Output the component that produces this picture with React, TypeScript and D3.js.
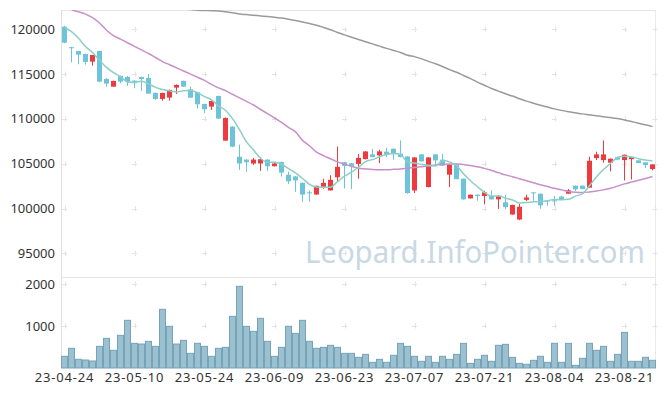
import React from 'react';
import * as d3 from 'd3';

const dates = [
  '23-04-24','23-04-25','23-04-26','23-04-27','23-04-28',
  '23-05-02','23-05-03','23-05-04','23-05-08','23-05-09','23-05-10','23-05-11','23-05-12',
  '23-05-15','23-05-16','23-05-17','23-05-18','23-05-19','23-05-22','23-05-23','23-05-24','23-05-25','23-05-26',
  '23-05-30','23-05-31','23-06-01','23-06-02','23-06-05','23-06-07','23-06-08','23-06-09',
  '23-06-12','23-06-13','23-06-14','23-06-15','23-06-16','23-06-19','23-06-20','23-06-21','23-06-22','23-06-23',
  '23-06-26','23-06-27','23-06-28','23-06-29','23-06-30','23-07-03','23-07-04','23-07-05','23-07-06','23-07-07',
  '23-07-10','23-07-11','23-07-12','23-07-13','23-07-14','23-07-17','23-07-18','23-07-19','23-07-20','23-07-21',
  '23-07-24','23-07-25','23-07-26','23-07-27','23-07-28','23-07-31','23-08-01','23-08-02','23-08-03','23-08-04',
  '23-08-07','23-08-08','23-08-09','23-08-10','23-08-11','23-08-14','23-08-16','23-08-17','23-08-18','23-08-21',
  '23-08-22','23-08-23','23-08-24','23-08-25',
];

const opens = [
  120290,118000,117580,117250,116390,117580,114460,113600,114800,114690,
  114270,114680,114570,112900,112230,112380,113490,114240,113300,112970,
  111670,111370,112560,107580,109140,105780,105460,105020,105020,105460,
  104720,105200,103770,103580,102870,101800,101560,102420,102020,103480,
  105160,105050,104980,105510,106040,105930,106340,106670,106120,105810,
  102010,106040,102390,106040,105450,103770,104890,103330,101130,101540,
  101390,101430,101020,100690,99330,98770,100960,101800,101650,100900,
  100900,101320,101650,102550,102550,102320,105620,105400,105110,105740,
  105400,105510,105370,105150,104400,
];
const closes = [
  118510,117930,117170,116360,117130,114160,113940,114240,114160,114130,
  113980,114460,112820,112230,112900,113230,113790,113600,112370,111630,
  111080,112000,110030,110110,106900,105020,105160,105460,105500,104720,
  105020,104010,103030,103140,101560,101750,102530,102870,103200,104650,
  104760,104760,105650,106370,105740,106370,106040,106180,105740,101720,
  105700,105260,105700,105370,104780,104890,103280,101020,101540,101390,
  101800,101020,101350,100160,100400,100200,101230,101750,100350,100850,
  100850,101050,102020,102140,102170,105330,106040,106040,105560,105450,
  106000,105740,105070,104840,104920,
];
const highs = [
  120400,118050,117600,117280,117150,117600,114570,114260,114830,114800,
  114300,114720,115020,112950,112920,113280,113860,114280,113600,113000,
  111700,112050,112600,110150,109200,107130,105500,105650,105700,105480,
  105120,105220,104130,103600,102900,102010,102550,103320,103720,106910,
  105180,105070,106100,106400,106670,106560,106780,106700,107600,105830,
  105720,106060,105720,106060,106120,104900,105000,103350,101560,101560,
  101990,102020,101370,101540,100420,100500,101540,101820,101670,100920,
  101390,101400,102170,102570,102570,105780,106340,107600,105580,105760,
  106020,105760,105390,105170,104940,
];
const lows = [
  118450,116300,116100,116050,115940,114100,113600,113580,113980,113680,
  113420,113120,112800,112120,112040,112040,112780,113550,112350,111150,
  110640,111000,110000,107550,106850,104310,104090,104870,104200,104200,
  104700,103570,102730,101860,100750,100750,101540,102200,102000,103000,
  102230,102160,103320,105480,105720,105070,105740,105450,105720,101650,
  101720,105240,102370,104890,104760,102390,103260,100990,101110,100870,
  100460,101000,99950,99950,99300,98700,100830,100870,99980,100310,
  100270,101030,101630,101950,102150,102300,105400,105110,104140,105430,
  103130,103240,105050,104510,104250,
];
const volumes = [
  278,469,207,190,167,516,706,421,778,1135,
  587,571,635,516,1397,992,571,659,349,587,
  516,278,469,492,1230,1944,992,873,1183,635,
  278,492,992,825,1135,635,469,492,540,492,
  349,349,254,325,135,206,135,302,587,516,
  278,159,278,135,278,206,325,587,111,206,
  302,159,540,563,254,111,88,183,278,135,
  587,135,587,64,230,587,421,516,159,325,
  849,159,159,254,183,
];
// four closes before the first visible day (needed for the 5-day average)
const priorCloses = [120250, 120850, 121000, 120400];
const ma20 = [
  122700,122200,121950,121700,121300,120700,119900,119300,118900,118500,
  118100,117700,117300,116850,116400,116050,115700,115350,115000,114650,
  114300,113850,113460,113150,112750,112350,111950,111550,111050,110600,
  110100,109600,109050,108550,107600,107000,106300,105900,105550,105200,
  104950,104700,104500,104420,104350,104320,104330,104370,104420,104500,
  104570,104650,104750,104850,104920,104970,104980,104900,104800,104650,
  104480,104250,104000,103750,103550,103320,103100,102870,102650,102450,
  102250,102080,101900,101800,101780,101850,101950,102080,102250,102500,
  102750,102950,103150,103350,103570,
];
const ma60 = [
  123400,123350,123300,123250,123200,123150,123100,123050,123000,122950,
  122900,122850,122800,122700,122600,122500,122400,122300,122200,122130,
  122100,122070,122040,121950,121850,121710,121640,121560,121490,121420,
  121350,121250,121130,120990,120820,120640,120450,120210,119950,119650,
  119380,119120,118870,118620,118370,118120,117870,117640,117420,117100,
  116950,116700,116420,116150,115850,115500,115200,114850,114500,114100,
  113750,113400,113100,112800,112550,112250,111980,111750,111520,111320,
  111120,110950,110800,110680,110560,110460,110350,110240,110150,110040,
  109880,109700,109520,109340,109140,
];
const priceTicks = [95000, 100000, 105000, 110000, 115000, 120000];
const volumeTicks = [1000, 2000];
const dateTicks = ['23-04-24','23-05-10','23-05-24','23-06-09','23-06-23','23-07-07','23-07-21','23-08-04','23-08-21'];

const UP = '#ec3a3f';
const DOWN = '#6cc3da';
const FONT = '"Noto Sans", "Open Sans", sans-serif';

export default function App() {
  const L = 61, R = 655, T = 10, PB = 277, VB = 368;
  const x = d3.scaleBand<string>().domain(dates).range([L, L + 7 * dates.length]).padding(0);
  const bw = x.bandwidth();
  const cx = (i: number) => (x(dates[i]) as number) + bw / 2;
  const y = d3.scaleLinear().domain([95000, 120000]).range([253.3, 29.3]);
  const yv = d3.scaleLinear().domain([0, 2000]).range([VB, 284]);

  const allCloses = [...priorCloses, ...closes];
  const ma5 = closes.map((_, i) => d3.mean(allCloses.slice(i, i + 5)) as number);

  const line = d3.line<number>().x((_, i) => cx(i)).y((d) => y(d)).curve(d3.curveMonotoneX);

  const crossX = [...dateTicks.map((d) => (x(d) as number) + bw / 2), R];
  const crossY = [...priceTicks.map((v) => y(v)), ...volumeTicks.map((v) => yv(v))];

  return (
    <svg width={665} height={396} style={{ position: 'absolute', left: 0, top: 0, background: '#fff' }}>
      <defs>
        <clipPath id="pc">
          <rect x={L} y={T} width={R - L} height={PB - T} />
        </clipPath>
      </defs>
      {/* frame */}
      <line x1={L} x2={R} y1={T + 0.5} y2={T + 0.5} stroke="#e6e6e6" />
      <line x1={L} x2={R} y1={PB + 0.5} y2={PB + 0.5} stroke="#e6e6e6" />
      <line x1={L + 0.5} x2={L + 0.5} y1={T} y2={VB} stroke="#e0e0e0" />
      <line x1={R + 0.5} x2={R + 0.5} y1={T} y2={VB} stroke="#eaeaea" />
      {/* grid crosses */}
      {crossX.map((gx) =>
        crossY.map((gy) => (
          <g key={`${gx}-${gy}`} stroke="#e2e2e2" strokeWidth={1}>
            <line x1={gx - 2.5} x2={gx + 2.5} y1={Math.round(gy) + 0.5} y2={Math.round(gy) + 0.5} />
            <line x1={Math.round(gx) + 0.5} x2={Math.round(gx) + 0.5} y1={gy - 2.5} y2={gy + 2.5} />
          </g>
        ))
      )}
      {/* watermark */}
      <text x={305} y={263} fontFamily={FONT} fontSize={31} fill="#c8d8e4" textLength={340} lengthAdjust="spacingAndGlyphs">
        Leopard.InfoPointer.com
      </text>
      {/* volume */}
      {volumes.map((v, i) => (
        <rect key={i} x={(x(dates[i]) as number) + 0.5} y={yv(v)} width={bw - 1} height={VB - yv(v)}
          fill="#9bc0d0" stroke="#76a3b8" strokeWidth={1} />
      ))}
      <g clipPath="url(#pc)">
        {/* candles */}
        {dates.map((d, i) => {
          const o = opens[i], c = closes[i];
          const up = c >= o;
          const col = up ? UP : DOWN;
          const top = y(Math.max(o, c));
          const bot = y(Math.min(o, c));
          return (
            <g key={d}>
              <line x1={cx(i)} x2={cx(i)} y1={y(highs[i])} y2={y(lows[i])} stroke={col} strokeWidth={1} />
              <rect x={cx(i) - 2.5} y={top} width={5} height={Math.max(1, bot - top)} fill={col} />
            </g>
          );
        })}
        <path d={line(ma60) || ''} fill="none" stroke="#9a9a9a" strokeWidth={1.5} />
        <path d={line(ma20) || ''} fill="none" stroke="#c88fc8" strokeWidth={1.5} />
        <path d={line(ma5) || ''} fill="none" stroke="#8ccfc4" strokeWidth={1.5} />
      </g>
      {/* y labels */}
      {priceTicks.map((v) => (
        <text key={v} x={55} y={y(v)} dy="0.35em" textAnchor="end" fontFamily={FONT} fontSize={13} fill="#333">{v}</text>
      ))}
      {volumeTicks.map((v) => (
        <text key={v} x={55} y={yv(v)} dy="0.35em" textAnchor="end" fontFamily={FONT} fontSize={13} fill="#333">{v}</text>
      ))}
      {/* x labels */}
      {dateTicks.map((d) => (
        <text key={d} x={(x(d) as number) + bw / 2} y={377.5} dy="0.35em" textAnchor="middle" fontFamily={FONT} fontSize={13} letterSpacing={0.8} fill="#333">{d}</text>
      ))}
    </svg>
  );
}
